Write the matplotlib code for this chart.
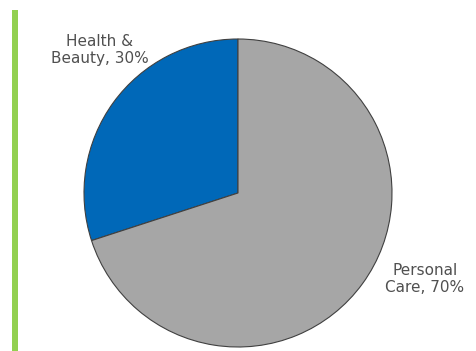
import matplotlib.pyplot as plt
from matplotlib.patches import Rectangle

# category split
labels = ['Health &\nBeauty, 30%', 'Personal\nCare, 70%']
shares = [30, 70]
colors = ['#0068b8', '#a6a6a6']

fig = plt.figure(figsize=(4.76, 3.51), dpi=100)
fig.patch.set_facecolor('white')

# green accent bar on the left
fig.add_artist(Rectangle((12 / 476, 0), 6 / 476, 1 - 10 / 351,
                         transform=fig.transFigure, color='#92d050', lw=0))

# pie area: centre ~ (238, 193) px, radius ~154 px
r = 154
cx, cy = 238, 351 - 193
ax = fig.add_axes([(cx - r) / 476, (cy - r) / 351, 2 * r / 476, 2 * r / 351])
ax.pie(shares, colors=colors, startangle=90, counterclock=True,
       wedgeprops=dict(edgecolor='#404040', linewidth=0.8))
ax.set_aspect('auto')
ax.set_xlim(-1, 1)
ax.set_ylim(-1, 1)
ax.axis('off')

fig.text(100 / 476, 1 - 50 / 351, labels[0], ha='center', va='center',
         fontsize=11, color='#505050', family='DejaVu Sans', linespacing=1.15,
         zorder=5)
fig.text(425 / 476, 1 - 279 / 351, labels[1], ha='center', va='center',
         fontsize=11, color='#505050', family='DejaVu Sans', linespacing=1.15)

fig.savefig('out.png', dpi=100)
